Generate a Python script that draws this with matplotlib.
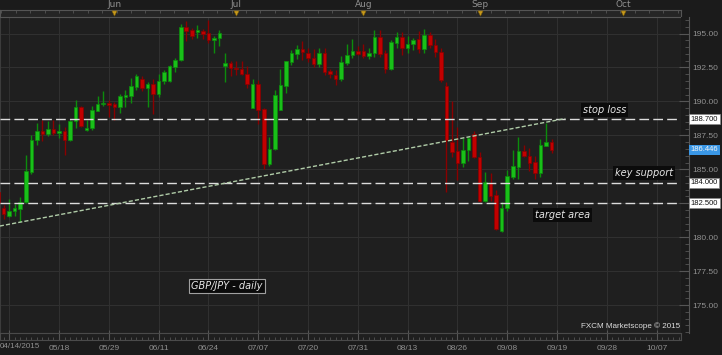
import matplotlib
matplotlib.use("Agg")
import matplotlib.pyplot as plt
import matplotlib.transforms as mtransforms
from matplotlib.ticker import MultipleLocator, FixedLocator, FuncFormatter
import numpy as np

# bar index 0 = 05/18/2015, one bar per weekday
first_idx = -11
opens = [183.35, 182.15, 181.58, 181.90, 182.09, 182.57, 184.80, 187.18, 187.84, 187.60,
         187.97, 187.69, 187.82, 187.18, 188.53, 189.59, 187.91, 188.04, 189.31, 189.80,
         189.88, 189.78, 189.59, 190.32, 190.42, 191.06, 191.67, 191.00, 191.30, 190.52,
         191.48, 191.50, 192.53, 193.03, 195.48, 195.24, 195.11, 195.18, 195.04, 194.54,
         194.67, 192.61, 192.83, 192.46, 192.41, 192.04, 189.53, 191.26, 189.44, 185.41,
         186.51, 189.39, 191.13, 192.90, 193.51, 193.86, 193.56, 193.22, 192.73, 193.56,
         192.24, 191.97, 191.67, 192.83, 193.39, 193.69, 193.71, 193.32, 193.58, 194.74,
         193.56, 192.36, 194.30, 194.74, 193.95, 194.25, 194.60, 193.86, 194.87, 194.13,
         193.64, 191.13, 187.00, 186.34, 185.44, 186.42, 187.57, 185.92, 182.66, 184.00,
         183.10, 180.47, 182.12, 184.45, 185.19, 186.34, 185.98, 185.56, 184.75, 186.74,
         187.03]
highs = [183.60, 182.35, 182.83, 182.46, 182.96, 186.03, 187.50, 188.41, 188.60, 188.55,
         188.60, 188.31, 188.11, 188.60, 190.08, 189.70, 188.65, 189.70, 190.40, 190.77,
         190.08, 189.95, 190.57, 190.86, 191.72, 192.04, 191.85, 191.43, 191.67, 192.00,
         192.28, 192.65, 193.22, 195.68, 195.92, 195.44, 195.60, 195.35, 195.97, 194.80,
         195.28, 193.56, 193.00, 193.00, 192.95, 192.60, 191.67, 191.60, 189.50, 187.38,
         190.82, 192.41, 193.00, 193.81, 194.13, 194.45, 193.90, 193.88, 193.90, 193.90,
         192.40, 192.30, 193.32, 194.20, 194.62, 194.10, 194.20, 193.90, 195.24, 195.26,
         193.80, 194.50, 195.10, 195.10, 194.80, 194.70, 195.20, 195.30, 195.10, 194.60,
         193.90, 191.43, 190.00, 188.13, 187.28, 187.40, 187.80, 186.29, 184.82, 184.70,
         183.50, 182.60, 184.94, 186.42, 187.40, 186.80, 186.55, 186.00, 187.20, 188.38,
         187.20]
lows = [182.30, 181.36, 181.48, 181.53, 181.11, 182.50, 184.67, 186.81, 187.08, 187.45,
        187.50, 187.33, 186.03, 187.08, 188.04, 188.10, 187.85, 187.90, 189.30, 189.70,
        188.85, 188.60, 189.17, 189.60, 189.88, 190.86, 190.77, 189.59, 189.10, 190.32,
        191.30, 191.45, 192.16, 192.95, 194.45, 194.60, 194.65, 194.60, 194.30, 193.56,
        194.06, 191.43, 191.85, 191.96, 191.96, 191.00, 189.50, 188.31, 185.04, 185.22,
        186.45, 189.35, 190.64, 192.70, 193.14, 193.03, 192.90, 192.50, 192.50, 191.96,
        191.74, 191.18, 191.50, 192.70, 193.20, 193.40, 193.20, 193.10, 193.30, 193.30,
        192.10, 192.30, 193.96, 193.40, 193.60, 193.80, 193.60, 193.55, 193.90, 193.30,
        191.40, 183.35, 185.90, 184.20, 185.19, 185.60, 185.80, 182.60, 182.60, 182.70,
        180.50, 180.40, 181.90, 184.30, 184.30, 185.90, 184.90, 184.30, 184.40, 186.70,
        186.17]
closes = [182.50, 181.68, 181.93, 182.17, 182.57, 184.87, 187.18, 187.82, 187.60, 187.97,
          187.69, 187.82, 187.18, 188.55, 189.59, 188.16, 188.04, 189.34, 189.83, 189.88,
          189.73, 189.59, 190.40, 190.49, 191.11, 191.85, 191.00, 191.30, 190.52, 191.50,
          192.16, 192.58, 193.07, 195.48, 195.18, 194.82, 195.24, 194.99, 194.54, 194.67,
          195.04, 192.83, 192.46, 192.36, 192.04, 191.30, 191.26, 189.39, 185.41, 186.51,
          190.45, 191.18, 192.97, 193.56, 193.86, 193.64, 193.22, 192.73, 193.56, 192.16,
          192.00, 191.67, 192.90, 193.39, 193.69, 193.51, 193.34, 193.58, 194.74, 193.51,
          192.41, 194.35, 194.74, 193.95, 194.25, 194.54, 193.88, 194.87, 194.13, 193.64,
          191.60, 187.15, 186.29, 185.48, 186.42, 187.28, 185.92, 182.66, 184.08, 183.03,
          180.58, 182.12, 184.50, 185.24, 186.34, 186.00, 185.48, 184.75, 186.79, 187.03,
          186.45]

date_idx = [-9, 0, 9, 18, 27, 36, 45, 54, 63, 72, 81, 90, 99, 108]
date_labels = ["04/14/2015", "05/18", "05/29", "06/11", "06/24", "07/07", "07/20",
               "07/31", "08/13", "08/26", "09/08", "09/19", "09/28", "10/07"]
month_idx = [10, 32, 55, 76, 102]
month_labels = ["Jun", "Jul", "Aug", "Sep", "Oct"]

stop_loss = 188.70
key_support = 184.00
target_area = 182.50
last_price = 186.446
trend_x = [-10.7, 91.5]
trend_y = [180.82, 188.74]

W, H = 722, 355
BG = "#1b1b1b"
PANEL = "#1f1f1f"
GRID = "#303030"
TXT = "#909090"
SMALL = "Liberation Sans"
XLIM = (-10.66, 112.4)
YLIM = (172.94, 196.22)


def rect(x0, y0, x1, y1):
    return [x0 / W, 1 - y1 / H, (x1 - x0) / W, (y1 - y0) / H]


fig = plt.figure(figsize=(W / 100, H / 100), dpi=100, facecolor=BG)

ax = fig.add_axes(rect(0, 17, 681, 333))
ax.set_facecolor(PANEL)
ax.set_xlim(*XLIM)
ax.set_ylim(*YLIM)
ax.set_xticks(date_idx)
ax.set_yticks(np.arange(175, 196, 2.5))
ax.grid(True, color=GRID, lw=0.8)
ax.tick_params(length=0, labelbottom=False, labelleft=False)
for s in ax.spines.values():
    s.set_color("#3c3c3c")
    s.set_linewidth(0.8)

# candles
idx = np.arange(first_idx, first_idx + len(opens))
o = np.array(opens)
c = np.array(closes)
up = c >= o
body_col = np.where(up, "#19c019", "#c20000")
edge_col = np.where(up, "#0c8c0c", "#8a0000")
ax.vlines(idx, lows, highs, colors=edge_col, lw=1.0, zorder=3)
bottoms = np.minimum(o, c)
heights = np.maximum(np.abs(c - o), 0.09)
ax.bar(idx, heights, bottom=bottoms, width=0.64, color=body_col,
       edgecolor=edge_col, lw=0.5, zorder=4)

# levels
for lvl in [stop_loss, key_support, target_area]:
    ax.axhline(lvl, color="#dcdcdc", lw=1.0, dashes=(7, 3), zorder=5)
ax.plot(trend_x, trend_y, color="#b0cca8", lw=1.0, dashes=(3, 1.5), zorder=5)

box = dict(boxstyle="square,pad=0.2", fc="#0b0b0b", ec="none")
lab = dict(ha="center", va="center", fontsize=7, style="italic", color="#e6e6e6", zorder=6)
ax.text(98.6, 189.36, "stop loss", bbox=box, **lab)
ax.text(105.8, 184.76, "key support", bbox=box, **lab)
ax.text(91.0, 181.63, "target area", bbox=box, **lab)
ax.text(30.3, 176.4, "GBP/JPY - daily",
        bbox=dict(boxstyle="square,pad=0.25", fc="#0b0b0b", ec="#a0a0a0", lw=0.8), **lab)

ax.text(0.998, 0.008, "FXCM Marketscope \u00a9 2015", transform=ax.transAxes,
        ha="right", va="bottom", fontsize=5.8, color="#dedede", family=SMALL)

# bottom date strip
ax_b = fig.add_axes(rect(0, 333, 681, 340))
ax_b.set_facecolor(PANEL)
ax_b.set_xlim(*XLIM)
ax_b.set_yticks([])
ax_b.xaxis.set_major_locator(FixedLocator(date_idx))
ax_b.xaxis.set_minor_locator(MultipleLocator(1))
ax_b.set_xticklabels([""] + date_labels[1:], family=SMALL)
ax_b.tick_params(axis="x", which="major", direction="in", length=7, color="#555555",
                 labelsize=6, labelcolor=TXT, pad=3.5)
ax_b.tick_params(axis="x", which="minor", direction="in", length=2.5, color="#555555")
for s in ax_b.spines.values():
    s.set_color("#4a4a4a")
    s.set_linewidth(0.8)
ax_b.text(0.0, -0.5, date_labels[0], transform=ax_b.transAxes, ha="left", va="top",
          fontsize=5.8, color=TXT, family=SMALL)

# top month strip
ax_t = fig.add_axes(rect(0, 10, 681, 17))
ax_t.set_facecolor("#252525")
ax_t.set_xlim(*XLIM)
ax_t.set_ylim(0, 1)
ax_t.set_yticks([])
ax_t.xaxis.tick_top()
ax_t.xaxis.set_major_locator(FixedLocator(month_idx))
ax_t.set_xticklabels(month_labels)
ax_t.xaxis.set_minor_locator(MultipleLocator(2.6))
ax_t.tick_params(axis="x", which="major", length=0, labelsize=6.5, labelcolor=TXT, pad=1)
ax_t.tick_params(axis="x", which="minor", direction="in", length=2, color="#555555")
ax_t.scatter(month_idx, [0.55] * len(month_idx), marker="v", s=14, color="#c89a1c",
             edgecolors="#7a5c0a", linewidths=0.4, zorder=3)
for s in ax_t.spines.values():
    s.set_color("#555555")
    s.set_linewidth(0.8)

# right price strip
ax_r = fig.add_axes(rect(681, 17, 689, 333))
ax_r.set_facecolor(BG)
ax_r.set_ylim(*YLIM)
ax_r.set_xticks([])
ax_r.yaxis.tick_right()
ax_r.yaxis.set_major_locator(MultipleLocator(2.5))
ax_r.yaxis.set_minor_locator(MultipleLocator(0.5))
ax_r.yaxis.set_major_formatter(
    FuncFormatter(lambda v, p: "" if abs(v - target_area) < 0.01 else "%.2f" % v))
ax_r.tick_params(axis="y", which="major", direction="in", length=7, color="#555555",
                 labelsize=6, labelcolor=TXT, pad=2.5)
ax_r.tick_params(axis="y", which="minor", direction="in", length=3, color="#555555")
for t in ax_r.get_yticklabels():
    t.set_family(SMALL)
for side in ["top", "bottom", "left"]:
    ax_r.spines[side].set_visible(False)
ax_r.spines["right"].set_color("#555555")

trans = mtransforms.blended_transform_factory(ax_r.transAxes, ax_r.transData)
for lvl in [stop_loss, key_support, target_area]:
    ax_r.text(1.2, lvl, "%.3f" % lvl, transform=trans, ha="left", va="center",
              fontsize=5.5, color="#111111", zorder=10, clip_on=False, family=SMALL,
              bbox=dict(boxstyle="square,pad=0.2", fc="white", ec="#888888", lw=0.5))
ax_r.text(1.2, last_price, "%.3f" % last_price, transform=trans, ha="left", va="center",
          fontsize=5.5, color="#f4f4f4", zorder=10, clip_on=False, family=SMALL,
          bbox=dict(boxstyle="square,pad=0.2", fc="#3a97e6", ec="none"))

fig.savefig("out.png", dpi=100, facecolor=BG)
